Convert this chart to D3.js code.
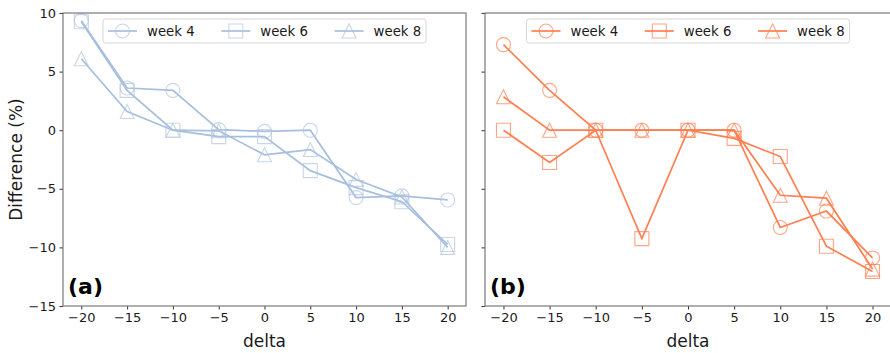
<!DOCTYPE html>
<html>
<head>
<meta charset="utf-8">
<script src="https://cdn.jsdelivr.net/npm/d3@7"></script>
<style>
  body { margin: 0; background: #fff; }
  svg { display: block; font-family: "DejaVu Sans", sans-serif; }
</style>
</head>
<body>
<div id="chart"></div>
<script>
// data
const deltas = [-20, -15, -10, -5, 0, 5, 10, 15, 20];
const xTicks = [-20, -15, -10, -5, 0, 5, 10, 15, 20];
const yTicks = [-15, -10, -5, 0, 5, 10];
const weekNames = ["week 4", "week 6", "week 8"];
const markerKinds = ["circle", "square", "triangle"];

// panel (a)
const aWeek4 = [9.35, 3.6, 3.4, 0.05, -0.1, 0.0, -5.75, -5.6, -5.95];
const aWeek6 = [9.25, 3.4, 0.0, -0.55, -0.55, -3.45, -4.9, -6.1, -9.75];
const aWeek8 = [6.1, 1.6, 0.0, -0.05, -2.1, -1.65, -4.2, -5.7, -10.0];

// panel (b)
const bWeek4 = [7.3, 3.4, 0.0, 0.0, 0.0, 0.0, -8.3, -6.9, -10.9];
const bWeek6 = [0.0, -2.75, 0.0, -9.25, 0.0, -0.7, -2.25, -9.9, -12.05];
const bWeek8 = [2.85, 0.0, 0.0, 0.0, 0.0, 0.0, -5.55, -5.8, -11.85];

const width = 890, height = 353;
const plotTop = 13, plotBottom = 306;

const panels = [
  { left: 63, right: 466, series: [aWeek4, aWeek6, aWeek8], line: "#a7bedf", mark: "#b0c4de", tag: "(a)", yLabels: true },
  { left: 485, right: 891, series: [bWeek4, bWeek6, bWeek8], line: "#ff7f50", mark: "#ff7f50", tag: "(b)", yLabels: false }
];

const svg = d3.select("#chart").append("svg")
  .attr("width", width)
  .attr("height", height);

const y = d3.scaleLinear().domain([-15, 10]).range([plotBottom, plotTop]);

function markerPath(kind) {
  const s = 7;
  if (kind === "circle") return d3.symbol(d3.symbolCircle, Math.PI * s * s)();
  if (kind === "square") return `M${-s},${-s}H${s}V${s}H${-s}Z`;
  return `M0,${-s}L${s},${s}L${-s},${s}Z`;
}

const minus = d => d < 0 ? "\u2212" + Math.abs(d) : String(d);

panels.forEach(p => {
  const x = d3.scaleLinear().domain([-22, 22]).range([p.left, p.right]);
  const g = svg.append("g");

  // axes
  const xAxis = d3.axisBottom(x).tickValues(xTicks).tickSize(3.5).tickPadding(3.5)
    .tickFormat(minus);
  const gx = g.append("g").attr("transform", `translate(0,${plotBottom})`).call(xAxis);

  const yAxis = d3.axisLeft(y).tickValues(yTicks).tickSize(3.5).tickPadding(3.5)
    .tickFormat(d => p.yLabels ? minus(d) : "");
  const gy = g.append("g").attr("transform", `translate(${p.left},0)`).call(yAxis);

  [gx, gy].forEach(a => {
    a.select(".domain").remove();
    a.selectAll(".tick line").attr("stroke", "#333").attr("stroke-width", 1);
    a.selectAll(".tick text").attr("fill", "#1a1a1a").attr("font-size", "13px")
      .attr("font-family", "DejaVu Sans, sans-serif");
  });

  // series
  p.series.forEach((vals, i) => {
    const pts = deltas.map((d, j) => [d, vals[j]]);
    g.append("path")
      .attr("d", d3.line().x(d => x(d[0])).y(d => y(d[1]))(pts))
      .attr("fill", "none")
      .attr("stroke", p.line)
      .attr("stroke-width", 1.7);
    g.selectAll(null).data(pts).enter().append("path")
      .attr("d", markerPath(markerKinds[i]))
      .attr("transform", d => `translate(${x(d[0])},${y(d[1])})`)
      .attr("fill", "none")
      .attr("stroke", p.mark)
      .attr("stroke-opacity", 0.7)
      .attr("stroke-width", 1.1);
  });

  // frame
  g.append("rect")
    .attr("x", p.left).attr("y", plotTop)
    .attr("width", p.right - p.left).attr("height", plotBottom - plotTop)
    .attr("fill", "none").attr("stroke", "#7a7a7a").attr("stroke-width", 1.2);

  // legend, upper center
  const boxW = 323, boxH = 24;
  const bx = (p.left + p.right) / 2 - boxW / 2, by = 19;
  const leg = g.append("g").attr("transform", `translate(${bx},${by})`);
  leg.append("rect")
    .attr("width", boxW).attr("height", boxH).attr("rx", 2.5)
    .attr("fill", "#fff").attr("fill-opacity", 0.8)
    .attr("stroke", "#d6d6d6").attr("stroke-width", 1);
  weekNames.forEach((name, i) => {
    const ox = 5 + i * 113.3;
    leg.append("line")
      .attr("x1", ox).attr("x2", ox + 29).attr("y1", 12).attr("y2", 12)
      .attr("stroke", p.line).attr("stroke-width", 1.7);
    leg.append("path")
      .attr("d", markerPath(markerKinds[i]))
      .attr("transform", `translate(${ox + 14.5},12)`)
      .attr("fill", "none").attr("stroke", p.mark)
      .attr("stroke-opacity", 0.7).attr("stroke-width", 1.1);
    leg.append("text")
      .attr("x", ox + 39).attr("y", 16.7)
      .attr("font-size", "13.3px").attr("fill", "#1a1a1a")
      .text(name);
  });

  // panel tag
  g.append("text")
    .attr("x", p.left + 5).attr("y", 294)
    .attr("font-size", "22px").attr("font-weight", "bold").attr("fill", "#000")
    .text(p.tag);

  // x label
  g.append("text")
    .attr("x", (p.left + p.right) / 2).attr("y", 347)
    .attr("text-anchor", "middle")
    .attr("font-size", "17px").attr("fill", "#1a1a1a")
    .text("delta");
});

svg.append("text")
  .attr("transform", `translate(22,${(plotTop + plotBottom) / 2}) rotate(-90)`)
  .attr("text-anchor", "middle")
  .attr("font-size", "17px").attr("fill", "#1a1a1a")
  .text("Difference (%)");
</script>
</body>
</html>
